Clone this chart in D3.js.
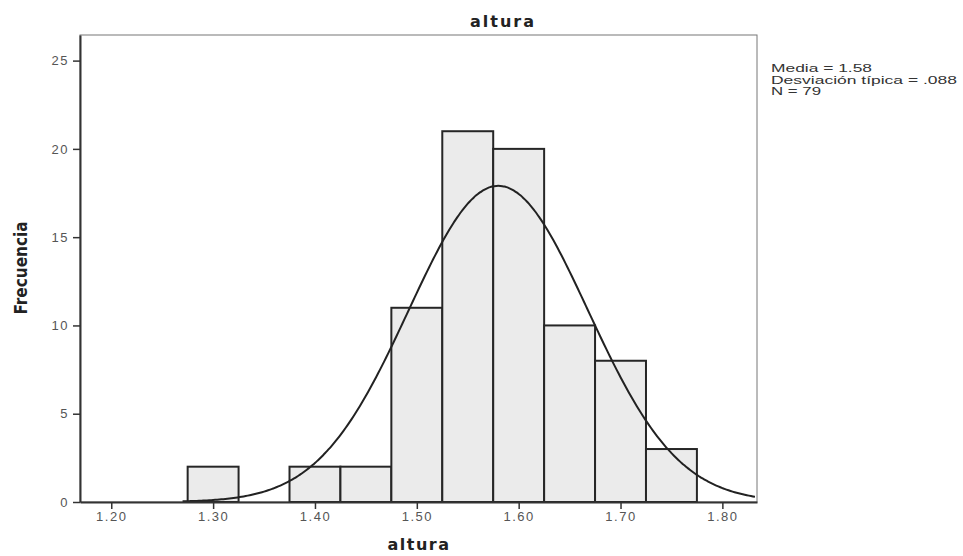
<!DOCTYPE html>
<html>
<head>
<meta charset="utf-8">
<script src="https://cdn.jsdelivr.net/npm/d3@7"></script>
<style>
  body { margin: 0; background: #fff; }
  svg { display: block; }
</style>
</head>
<body>
<svg width="963" height="556"></svg>
<script>
// histogram bins (midpoints) and counts
const binMids = [1.30, 1.35, 1.40, 1.45, 1.50, 1.55, 1.60, 1.65, 1.70, 1.75];
const counts  = [2, 0, 2, 2, 11, 21, 20, 10, 8, 3];
const binWidth = 0.05;
const xTicks = [1.20, 1.30, 1.40, 1.50, 1.60, 1.70, 1.80];
const yTicks = [0, 5, 10, 15, 20, 25];
const mean = 1.58, sd = 0.088, n = 79;
const statLines = ["Media = 1.58", "Desviación típica = .088", "N = 79"];

const svg = d3.select("svg");
const mLeft = 80, mRight = 757, mTop = 35, mBottom = 502;

const x = d3.scaleLinear().domain([1.1693, 1.834]).range([mLeft, mRight]);
const y = d3.scaleLinear().domain([0, 26.45]).range([mBottom, mTop]);

// plot frame (top + right thin lines)
svg.append("rect")
  .attr("x", mLeft).attr("y", mTop)
  .attr("width", mRight - mLeft).attr("height", mBottom - mTop)
  .attr("fill", "none").attr("stroke", "#777").attr("stroke-width", 1);

// bars
const bars = binMids.map((m, i) => ({x0: m - binWidth / 2, x1: m + binWidth / 2, c: counts[i]}))
  .filter(d => d.c > 0);

svg.append("g")
  .selectAll("rect")
  .data(bars)
  .join("rect")
  .attr("x", d => x(d.x0))
  .attr("y", d => y(d.c))
  .attr("width", d => x(d.x1) - x(d.x0))
  .attr("height", d => y(0) - y(d.c))
  .attr("fill", "#ebebeb")
  .attr("stroke", "#262626")
  .attr("stroke-width", 2);

// normal curve
const pdf = v => n * binWidth / (sd * Math.sqrt(2 * Math.PI)) * Math.exp(-0.5 * ((v - mean) / sd) ** 2);
const curvePts = d3.range(1.27, 1.834, 0.002).map(v => [v, pdf(v)]);
svg.append("path")
  .datum(curvePts)
  .attr("fill", "none")
  .attr("stroke", "#222")
  .attr("stroke-width", 2)
  .attr("d", d3.line().x(d => x(d[0])).y(d => y(d[1])).curve(d3.curveBasis));

// axes
const yAxis = svg.append("g")
  .attr("transform", `translate(${mLeft},0)`)
  .call(d3.axisLeft(y).tickValues(yTicks).tickSize(7).tickPadding(4).tickSizeOuter(0));
const xAxis = svg.append("g")
  .attr("transform", `translate(0,${mBottom})`)
  .call(d3.axisBottom(x).tickValues(xTicks).tickFormat(d3.format(".2f")).tickSize(7).tickPadding(3).tickSizeOuter(0));

[yAxis, xAxis].forEach(g => {
  g.select(".domain").attr("stroke", "#333").attr("stroke-width", 2);
  g.selectAll(".tick line").attr("stroke", "#333").attr("stroke-width", 1.5);
  g.selectAll(".tick text")
    .attr("fill", "#555")
    .attr("font-family", "Liberation Sans, Arial, sans-serif")
    .attr("font-size", 13)
    .attr("letter-spacing", 1.5);
});

// titles
svg.append("text")
  .attr("x", 503).attr("y", 27)
  .attr("text-anchor", "middle")
  .attr("font-family", "DejaVu Sans, sans-serif")
  .attr("font-weight", "bold").attr("font-size", 16).attr("fill", "#222")
  .attr("letter-spacing", 2)
  .text("altura");

svg.append("text")
  .attr("x", 419).attr("y", 550)
  .attr("text-anchor", "middle")
  .attr("font-family", "DejaVu Sans, sans-serif")
  .attr("font-weight", "bold").attr("font-size", 16).attr("fill", "#222")
  .attr("letter-spacing", 1.5)
  .text("altura");

svg.append("text")
  .attr("transform", "translate(27,268) rotate(-90)")
  .attr("text-anchor", "middle")
  .attr("font-family", "Liberation Sans Narrow, DejaVu Sans Condensed, sans-serif")
  .attr("font-weight", "bold").attr("font-size", 17).attr("fill", "#222")
  .text("Frecuencia");

// stats box (wide, as in the reference)
const statWidths = [101, 186, 50];
svg.append("g")
  .selectAll("text")
  .data(statLines)
  .join("text")
  .attr("x", 771)
  .attr("y", (d, i) => 72 + i * 11.5)
  .attr("font-family", "Liberation Sans, Arial, sans-serif")
  .attr("font-size", 11).attr("fill", "#333")
  .attr("textLength", (d, i) => statWidths[i])
  .attr("lengthAdjust", "spacingAndGlyphs")
  .text(d => d);
</script>
</body>
</html>
